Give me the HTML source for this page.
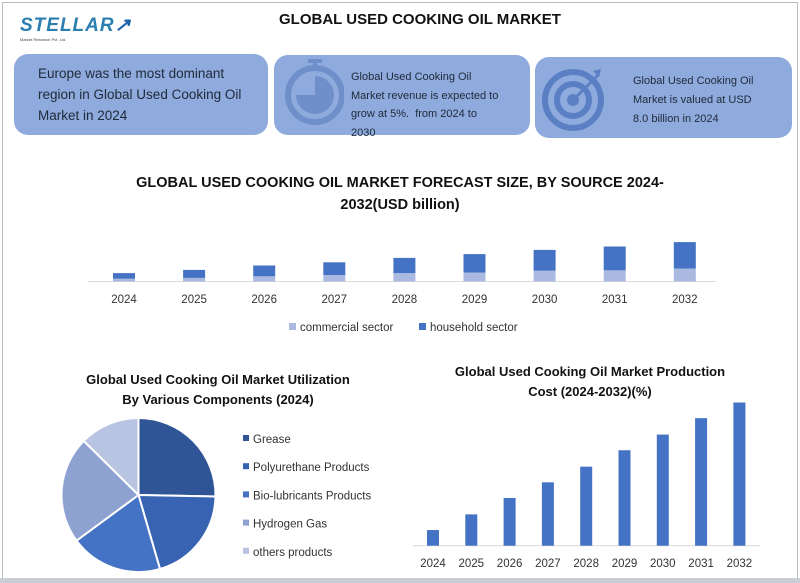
<!DOCTYPE html>
<html><head><meta charset="utf-8">
<style>
html,body{margin:0;padding:0;background:#fff;}
body{width:800px;height:583px;position:relative;overflow:hidden;font-family:"Liberation Sans",sans-serif;}
.frame{position:absolute;left:2px;top:2px;width:794px;height:576px;border:1px solid #b8bcc2;}
.box{position:absolute;background:#8faadc;border-radius:14px;color:#1f2a3a;}
.t{position:absolute;font-weight:bold;color:#111;text-align:center;}
svg{position:absolute;left:0;top:0;}
</style></head>
<body>
<div class="frame"></div>
<div style="position:absolute;left:20px;top:14px;width:110px;height:30px;">
 <div style="font-size:19px;font-weight:bold;color:#2a7fb0;letter-spacing:1px;font-style:italic;">STELLAR<span style="color:#1b5fa8">&#x2197;</span></div>
 <div style="font-size:4px;color:#444;margin-top:0;">Market Research Pvt. Ltd.</div>
</div>
<div class="t" style="left:230px;top:11px;width:380px;font-size:15px;">GLOBAL USED COOKING OIL MARKET</div>

<div class="box" style="left:14px;top:54px;width:254px;height:81px;">
 <div style="position:absolute;left:24px;top:9px;font-size:13.5px;line-height:21px;">Europe was the most dominant<br>region in Global Used Cooking Oil<br>Market in 2024</div>
</div>
<div class="box" style="left:274px;top:55px;width:256px;height:80px;">
 <svg width="70" height="80">
  <rect x="34" y="4" width="14" height="4" fill="#6f8fcb"/><rect x="39" y="7" width="4" height="6" fill="#6f8fcb"/>
  <circle cx="41" cy="40" r="27" fill="none" stroke="#6f8fcb" stroke-width="6"/>
  <path d="M41 40 L41 21 A19 19 0 1 1 22 40 Z" fill="#6f8fcb"/>
 </svg>
 <div style="position:absolute;left:77px;top:13px;font-size:11px;line-height:18.5px;">Global Used Cooking Oil<br>Market revenue is expected to<br>grow at 5%.&nbsp; from 2024 to<br>2030</div>
</div>
<div class="box" style="left:535px;top:57px;width:257px;height:81px;">
 <svg width="90" height="81">
  <circle cx="38" cy="43" r="28" fill="none" stroke="#5b7fc4" stroke-width="6"/>
  <circle cx="38" cy="43" r="16" fill="none" stroke="#5b7fc4" stroke-width="6"/>
  <circle cx="38" cy="43" r="6" fill="#5b7fc4"/>
  <line x1="38" y1="43" x2="64" y2="17" stroke="#5b7fc4" stroke-width="3"/>
  <path d="M58 14 L66 12 L64 20 Z" fill="#5b7fc4"/>
 </svg>
 <div style="position:absolute;left:98px;top:15px;font-size:11px;line-height:19px;">Global Used Cooking Oil<br>Market is valued at USD<br>8.0 billion in 2024</div>
</div>

<div class="t" style="left:130px;top:172px;width:540px;font-size:14.5px;line-height:22px;">GLOBAL USED COOKING OIL MARKET FORECAST SIZE, BY SOURCE 2024-<br>2032(USD billion)</div>
<div class="t" style="left:50px;top:370px;width:336px;font-size:13px;line-height:20px;">Global Used Cooking Oil Market Utilization<br>By Various Components (2024)</div>
<div class="t" style="left:420px;top:362px;width:340px;font-size:13px;line-height:20px;">Global Used Cooking Oil Market Production<br>Cost (2024-2032)(%)</div>

<svg id="chart" width="800" height="583"></svg>
<div style="position:absolute;left:0;top:578px;width:800px;height:5px;background:#c9ced6;"></div>

<script>
const years = ["2024","2025","2026","2027","2028","2029","2030","2031","2032"];
const commercial = [0.7,0.9,1.3,1.6,2.1,2.25,2.7,2.8,3.25];
const household = [1.4,2.0,2.7,3.2,3.8,4.6,5.2,5.95,6.6];
const costValues = [1,2,3.05,4.05,5.05,6.1,7.1,8.15,9.15];
const pieLabels = ["Grease","Polyurethane Products","Bio-lubricants Products","Hydrogen Gas","others products"];
const pieValues = [25.3,20.2,19.4,22.5,12.6];
const pieColors = ["#2f5597","#3763b2","#4472c4","#8ea2d2","#b8c4e2"];

const NS="http://www.w3.org/2000/svg";
const svg=document.getElementById('chart');
function mk(tag,attrs,parent){const e=document.createElementNS(NS,tag);for(const k in attrs)e.setAttribute(k,attrs[k]);(parent||svg).appendChild(e);return e;}

// stacked chart
const sBase=281.5, sScale=4.0, sX0=124, sStep=70.1, sW=22;
const sx=i=>sX0+i*sStep, sy=v=>sBase-v*sScale;
let ax=mk('line',{x1:88,x2:716,y1:sBase,y2:sBase,stroke:'#d9d9d9','stroke-width':1});


years.forEach((y,i)=>{
  const c=commercial[i],h=household[i];
  let r1=mk('rect',{x:sx(i)-sW/2,y:sy(c),width:sW,height:sBase-sy(c),fill:'#a9b9e0'});
  
  
  let r2=mk('rect',{x:sx(i)-sW/2,y:sy(c+h),width:sW,height:sy(c)-sy(c+h),fill:'#4472c4'});
  
  
  let t=mk('text',{x:sx(i),y:303,'font-size':11.5,'text-anchor':'middle',fill:'#333','font-family':'Liberation Sans, sans-serif'});
  t.textContent=y;
  
  
});
[["commercial sector","#a9b9e0",289],["household sector","#4472c4",419]].forEach(([n,c,x])=>{
  let r=mk('rect',{x:x,y:323,width:7,height:7,fill:c});
  
  
  let t=mk('text',{x:x+11,y:331,'font-size':11.5,fill:'#333','font-family':'Liberation Sans, sans-serif'});
  t.textContent=n;
  
  
});

// cost chart
const cBase=545.7, cScale=15.65, cX0=433, cStep=38.3, cW=12;
const cx=i=>cX0+i*cStep, cy=v=>cBase-v*cScale;
let ax2=mk('line',{x1:413,x2:760,y1:cBase,y2:cBase,stroke:'#d9d9d9','stroke-width':1});


years.forEach((y,i)=>{
  let r=mk('rect',{x:cx(i)-cW/2,y:cy(costValues[i]),width:cW,height:cBase-cy(costValues[i]),fill:'#4472c4'});
  
  
  let t=mk('text',{x:cx(i),y:567,'font-size':11.5,'text-anchor':'middle',fill:'#333','font-family':'Liberation Sans, sans-serif'});
  t.textContent=y;
  
  
});

// pie
const pcx=138.5,pcy=495,pr=77;
const total=pieValues.reduce((a,b)=>a+b,0);
let ang=0;
pieValues.forEach((v,i)=>{
  const a0=ang, a1=ang+v/total*2*Math.PI; ang=a1;
  const x0=pcx+pr*Math.sin(a0),y0=pcy-pr*Math.cos(a0),x1=pcx+pr*Math.sin(a1),y1=pcy-pr*Math.cos(a1);
  const large=(a1-a0)>Math.PI?1:0;
  let p=mk('path',{d:`M${pcx} ${pcy} L${x0} ${y0} A${pr} ${pr} 0 ${large} 1 ${x1} ${y1} Z`,fill:pieColors[i],stroke:'#fff','stroke-width':2});
  
  
  const ly=439+i*28.2;
  let s=mk('rect',{x:243,y:ly-4,width:6,height:6,fill:pieColors[i]});
  
  
  let t=mk('text',{x:253,y:ly+4,'font-size':11.5,fill:'#333','font-family':'Liberation Sans, sans-serif'});
  t.textContent=pieLabels[i];
  
  
});
</script>
</body></html>
